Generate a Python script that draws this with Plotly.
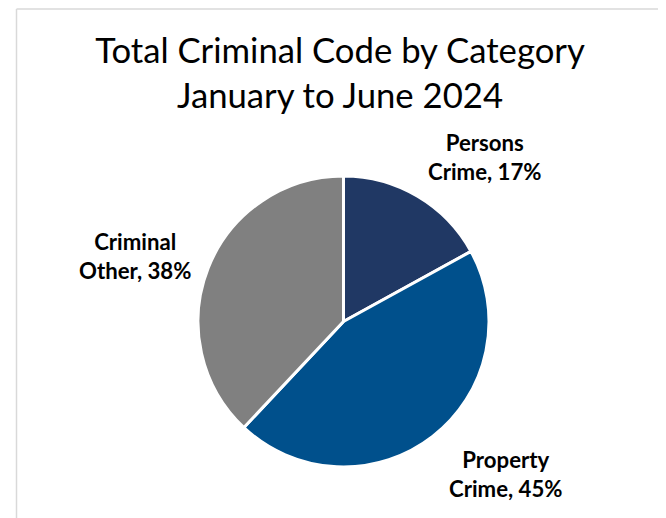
import plotly.graph_objects as go

categories = ["Persons Crime", "Property Crime", "Criminal Other"]
label_lines = [["Persons", "Crime"], ["Property", "Crime"], ["Criminal", "Other"]]
shares = [17, 45, 38]
colors = ["#203864", "#00508C", "#808080"]
title_lines = ["Total Criminal Code by Category", "January to June 2024"]

OFF = 8  # page body margin
W, H = 666 - OFF, 518 - OFF


def px(x):
    return (x - OFF) / W


def py(y):
    return 1 - (y - OFF) / H


fig = go.Figure()
fig.add_trace(go.Pie(
    labels=categories,
    values=shares,
    sort=False,
    direction="clockwise",
    rotation=0,
    marker=dict(colors=colors, line=dict(color="white", width=3)),
    textinfo="none",
    hoverinfo="label+percent",
    showlegend=False,
    domain=dict(x=[px(198), px(489)], y=[py(467), py(176)]),
))

# label anchor positions (screen pixel centres of label blocks)
label_pos = [(485, 157), (506, 474), (135, 256)]
total = sum(shares)
for lines, v, (lx, ly) in zip(label_lines, shares, label_pos):
    pct = round(100 * v / total)
    txt = "<b>%s<br>%s, %d%%</b>" % (lines[0], lines[1], pct)
    fig.add_annotation(
        x=px(lx), y=py(ly), xref="paper", yref="paper",
        text=txt, showarrow=False, xanchor="center", yanchor="middle",
        font=dict(family="Lato", size=22.2, color="#000000"),
    )

# chart-area frame (only left and top edges are inside the view)
frame = dict(color="#D9D9D9", width=1.5)
fig.add_shape(type="line", xref="paper", yref="paper",
              x0=px(16.5), x1=px(16.5), y0=-0.1, y1=py(9), line=frame)
fig.add_shape(type="line", xref="paper", yref="paper",
              x0=px(16.5), x1=1.1, y0=py(9), y1=py(9), line=frame)

fig.update_layout(
    width=W, height=H,
    margin=dict(l=0, r=0, t=0, b=0),
    paper_bgcolor="white", plot_bgcolor="white",
    title=dict(text="<br>".join(title_lines), x=px(340), xanchor="center",
               y=py(62.5), yanchor="middle",
               font=dict(family="Lato", size=34.7, color="#000000")),
)

fig.write_html("out.html")
